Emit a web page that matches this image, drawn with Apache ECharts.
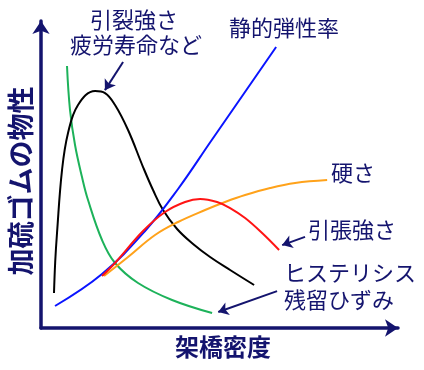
<!DOCTYPE html>
<html><head><meta charset="utf-8">
<script src="https://cdn.jsdelivr.net/npm/echarts@6/dist/echarts.min.js"></script>
<style>html,body{margin:0;padding:0;background:#fff}#c{width:424px;height:370px}</style>
</head><body><div id="c"></div>
<script>
// Conceptual curves: property vs crosslink density (0-100 scale)
const tearX = [3.58, 3.91, 4.41, 5.79, 7.44, 10.19, 14.88, 17.63, 20.39, 23.97, 28.10, 30.85, 33.61, 37.47, 41.87, 46.56, 52.07, 58.68];
const tearY = [11.18, 21.09, 30.35, 50.48, 62.30, 71.25, 75.72, 75.08, 71.25, 63.26, 51.44, 44.09, 37.70, 31.63, 26.84, 22.68, 18.53, 13.74];
const modX = [3.86, 16.80, 28.65, 37.74, 46.83, 64.74];
const modY = [7.03, 17.25, 30.99, 44.41, 59.74, 89.78];
const hardX = [17.36, 23.97, 31.40, 37.74, 45.18, 50.69, 56.20, 63.09, 69.97, 78.79];
const hardY = [16.61, 22.68, 29.71, 33.87, 37.70, 40.26, 42.49, 44.73, 46.33, 47.28];
const tensX = [16.80, 20.39, 28.10, 34.16, 39.67, 43.80, 48.48, 52.07, 56.20, 60.88, 65.56];
const tensY = [16.61, 20.77, 30.99, 37.06, 40.26, 41.21, 40.26, 38.34, 35.14, 30.35, 24.92];
const hystX = [7.16, 7.99, 9.37, 11.29, 12.95, 16.80, 20.39, 26.72, 36.09, 47.11];
const hystY = [83.71, 69.65, 58.47, 48.24, 40.89, 28.12, 20.77, 14.38, 8.95, 4.79];
// Annotation arrows [fromX, fromY, toX, toY]
const arrowTear = [22.6, 85.0, 17.6, 76.0];
const arrowTens = [72.7, 29.1, 66.4, 26.5];
const arrowHyst = [65.0, 11.8, 48.8, 5.1];
const xTitle = '架橋密度';
const yTitle = '加硫ゴムの物性';

const NAVY = '#14146e';
const FONT = '"Noto Sans CJK JP", sans-serif';
const zip = (xs, ys) => xs.map((x, i) => [x, ys[i]]);
const curve = (xs, ys, color) => ({
  type: 'line', data: zip(xs, ys), smooth: 0.4, symbol: 'none',
  lineStyle: { color, width: 2 }, silent: true, z: 3
});
const arr = a => ({ coords: [[a[0], a[1]], [a[2], a[3]]] });
const axisCommon = {
  type: 'value', min: 0,
  axisLine: { show: true, symbol: ['none', 'arrow'], symbolSize: [13, 13],
    lineStyle: { color: NAVY, width: 3.5 } },
  axisTick: { show: false }, axisLabel: { show: false }, splitLine: { show: false }
};
const txt = (text, x, y, align, size, weight, rot) => ({
  type: 'text', x, y, rotation: rot || 0,
  style: { text, fill: NAVY, font: (weight || 'normal') + ' ' + size + 'px ' + FONT,
    textAlign: align, textVerticalAlign: 'middle' }
});

const chart = echarts.init(document.getElementById('c'), null, { renderer: 'canvas' });
chart.setOption({
  animation: false,
  backgroundColor: '#fff',
  grid: { left: 41, top: 21, right: 26, bottom: 42 },
  xAxis: Object.assign({}, axisCommon, { max: 98.3 }),
  yAxis: Object.assign({}, axisCommon, { max: 98.1 }),
  series: [
    curve(hystX, hystY, '#1db25a'),
    curve(tearX, tearY, '#000000'),
    curve(modX, modY, '#0a14ff'),
    curve(hardX, hardY, '#ffa21a'),
    curve(tensX, tensY, '#ff1414'),
    {
      type: 'lines', coordinateSystem: 'cartesian2d', silent: true, z: 4,
      symbol: ['none', 'arrow'], symbolSize: 10,
      lineStyle: { color: NAVY, width: 2, opacity: 1 },
      data: [arr(arrowTear), arr(arrowTens), arr(arrowHyst)]
    }
  ],
  graphic: [
    txt('引裂強さ', 134, 20, 'center', 22),
    txt('疲労寿命など', 136, 45, 'center', 22),
    txt('静的弾性率', 229, 28, 'left', 22),
    txt('硬さ', 331, 173, 'left', 22),
    txt('引張強さ', 308, 230, 'left', 22),
    txt('ヒステリシス', 284, 273, 'left', 22),
    txt('残留ひずみ', 284, 300, 'left', 22),
    txt(xTitle, 223, 347, 'center', 24, 'bold'),
    txt(yTitle, 21, 181, 'center', 27, 'bold', Math.PI / 2)
  ]
});
</script></body></html>
